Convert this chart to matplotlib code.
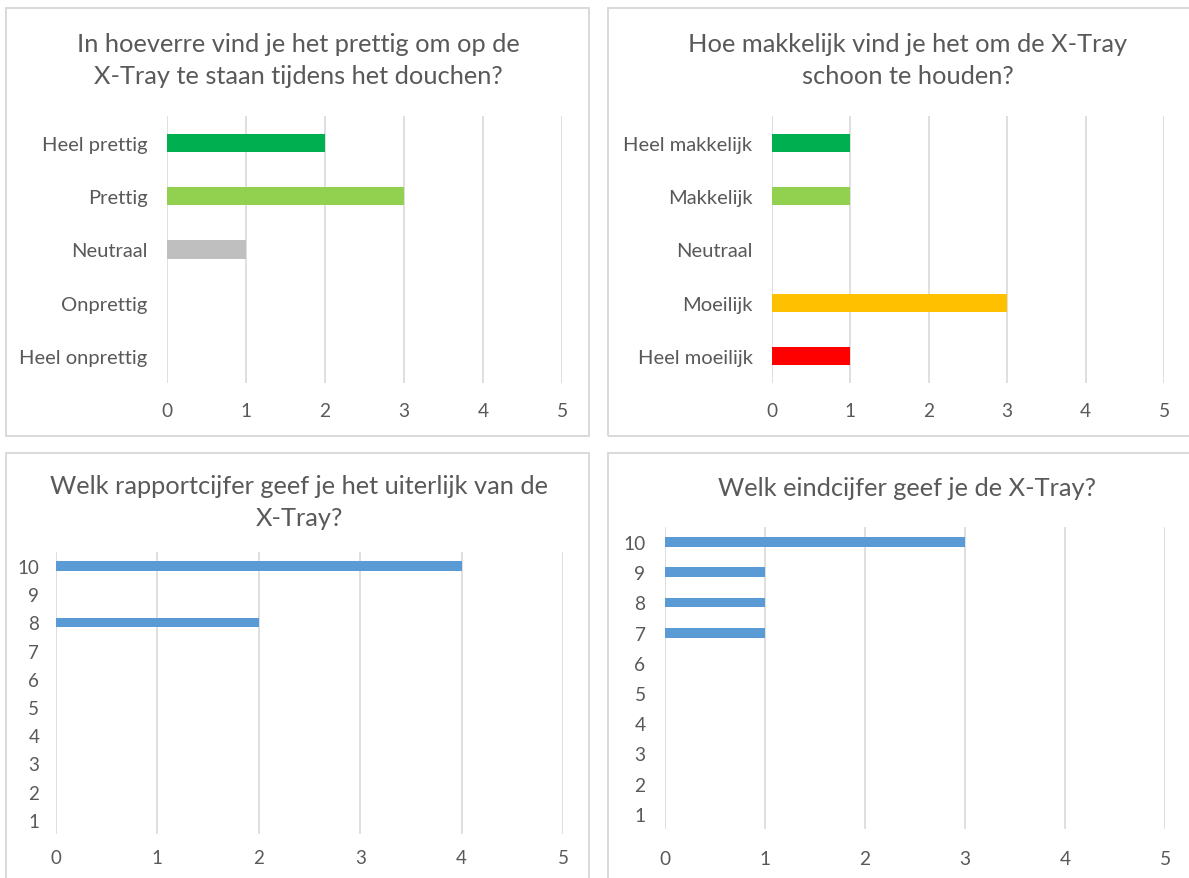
import matplotlib
matplotlib.use("Agg")
import matplotlib.pyplot as plt
from matplotlib.patches import Rectangle

plt.rcParams['font.family'] = ['Lato', 'DejaVu Sans']

# data
titles_1 = ["In hoeverre vind je het prettig om op de", "X-Tray te staan tijdens het douchen?"]
cats_1 = ["Heel prettig", "Prettig", "Neutraal", "Onprettig", "Heel onprettig"]
vals_1 = [2, 3, 1, 0, 0]
colors_1 = ["#00B050", "#92D050", "#BFBFBF", "#BFBFBF", "#BFBFBF"]

titles_2 = ["Hoe makkelijk vind je het om de X-Tray", "schoon te houden?"]
cats_2 = ["Heel makkelijk", "Makkelijk", "Neutraal", "Moeilijk", "Heel moeilijk"]
vals_2 = [1, 1, 0, 3, 1]
colors_2 = ["#00B050", "#92D050", "#BFBFBF", "#FFC000", "#FF0000"]

titles_3 = ["Welk rapportcijfer geef je het uiterlijk van de", "X-Tray?"]
cats_3 = ["10", "9", "8", "7", "6", "5", "4", "3", "2", "1"]
vals_3 = [4, 0, 2, 0, 0, 0, 0, 0, 0, 0]

titles_4 = ["Welk eindcijfer geef je de X-Tray?"]
cats_4 = ["10", "9", "8", "7", "6", "5", "4", "3", "2", "1"]
vals_4 = [3, 1, 1, 1, 0, 0, 0, 0, 0, 0]

x_ticks = [0, 1, 2, 3, 4, 5]

W, H = 1189, 879
TXT = "#595959"
GRID = "#D9D9D9"
BLUE = "#5B9BD5"

fig = plt.figure(figsize=(W / 100, H / 100), dpi=100)
fig.patch.set_facecolor("white")


def px_box(x0, y0, x1, y1):
    # pixel box (top-left origin) -> figure fraction [left, bottom, w, h]
    return [x0 / W, 1 - y1 / H, (x1 - x0) / W, (y1 - y0) / H]


def panel(x0, y0, x1, y1):
    fig.add_artist(Rectangle((x0 / W, 1 - y1 / H), (x1 - x0) / W, (y1 - y0) / H,
                             transform=fig.transFigure, fill=False,
                             edgecolor=GRID, lw=1.4))


def titles(lines, cx, cy, step=32):
    for i, t in enumerate(lines):
        fig.text(cx / W, 1 - (cy + i * step) / H, t, ha="center", va="center",
                 color=TXT, fontsize=18.3)


def chart(box, cats, vals, colors, height, ypad, xpad, yfs, xfs=13.8):
    ax = fig.add_axes(px_box(*box))
    pos = list(range(len(cats)))[::-1]
    ax.barh(pos, vals, height=height, color=colors, zorder=3)
    ax.set_xlim(0, 5)
    ax.set_ylim(-0.5, len(cats) - 0.5)
    ax.set_xticks(x_ticks)
    ax.set_yticks(pos)
    ax.set_yticklabels(cats)
    for s in ax.spines.values():
        s.set_visible(False)
    ax.grid(axis="x", color=GRID, lw=1.2, zorder=0)
    ax.tick_params(axis="both", length=0, colors=TXT)
    ax.tick_params(axis="y", pad=ypad, labelsize=yfs)
    ax.tick_params(axis="x", pad=xpad, labelsize=xfs)
    ax.set_axisbelow(True)
    return ax


panel(6, 9, 589, 437)
panel(608, 9, 1210, 437)
panel(6, 454, 589, 900)
panel(608, 454, 1210, 900)

titles(titles_1, 298, 45)
titles(titles_2, 908, 45)
titles(titles_3, 299, 487)
titles(titles_4, 907, 489)

chart((167, 117, 562, 384), cats_1, vals_1, colors_1, 0.34, 14, 14, 14.5)
chart((772, 117, 1164, 384), cats_2, vals_2, colors_2, 0.34, 14, 14, 14.5)
chart((56, 553, 563, 835), cats_3, vals_3, BLUE, 0.33, 12, 11, 13.5, 13.5)
chart((665, 528, 1165, 830), cats_4, vals_4, BLUE, 0.33, 14, 15, 13.8)

fig.savefig("out.png", dpi=100, facecolor="white")
